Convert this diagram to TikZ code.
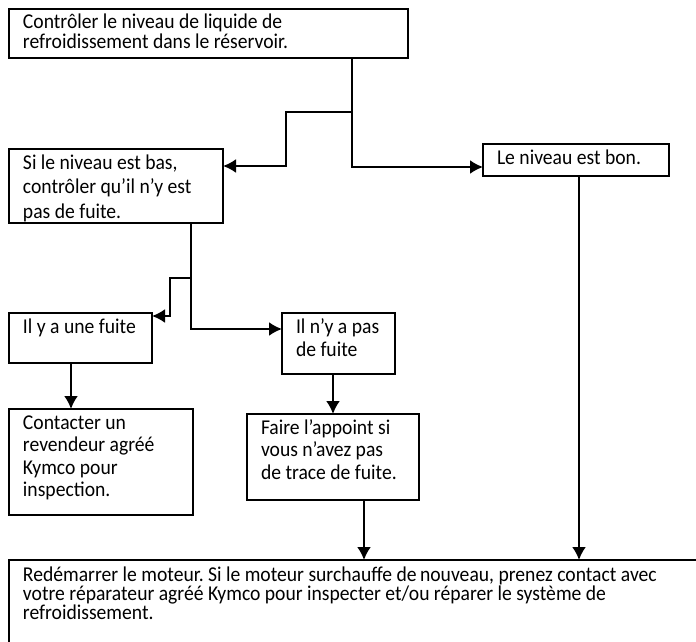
\documentclass[tikz,border=0pt]{standalone}
\usepackage{fontspec}
\setmainfont{Carlito}[FakeStretch=0.93]
\usetikzlibrary{arrows.meta}
\setlength{\lineskiplimit}{-100pt}
\frenchspacing

\begin{document}
\begin{tikzpicture}[x=1pt,y=-1pt,
  boite/.style={draw, line width=2pt, anchor=north west, align=flush left,
    inner xsep=14pt, inner ysep=0pt, outer sep=0pt, text height=20pt},
  interligne/.style={font=\fontsize{21.1pt}{#1pt}\selectfont},
  fleche/.style={line width=2pt, -{Latex[length=13pt,width=14pt]}},
  trait/.style={line width=2pt}]

  \useasboundingbox (0,0) rectangle (696,642);
  \clip (0,0) rectangle (696,642);

  % Boites
  \node[boite, interligne=20, text width=371pt, text depth=29pt] (ctrl) at (9,9)
    {Contrôler le niveau de liquide de\\refroidissement dans le réservoir.};
  \node[boite, interligne=24.5, text width=186pt, text depth=54pt] (bas) at (9,149)
    {Si le niveau est bas,\\contrôler qu’il n’y est\\pas de fuite.};
  \node[boite, interligne=24, text width=158pt, text depth=12pt] (bon) at (483,144)
    {Le niveau est bon.};
  \node[boite, interligne=24, text width=115pt, text depth=30pt] (fuite) at (9,313)
    {Il y a une fuite};
  \node[boite, interligne=23.5, text width=85pt, text depth=41pt] (nofuite) at (282,313)
    {Il n’y a pas\\de fuite};
  \node[boite, interligne=22.5, text width=156pt, text depth=86pt] (revendeur) at (9,409)
    {Contacter un\\revendeur agréé\\Kymco pour\\inspection.};
  \node[boite, interligne=22.5, text width=144pt, text depth=66pt] (appoint) at (247,414)
    {Faire l’appoint si\\vous n’avez pas\\de trace de fuite.};
  \node[boite, interligne=17.5, text height=21.5pt, text width=672pt, text depth=78.5pt] (moteur) at (9,560)
    {Redémarrer le moteur. Si le moteur surchauffe de\,nouveau, prenez contact avec\\
     votre réparateur agréé Kymco pour inspecter et/ou réparer le système de\\
     refroidissement.};

  % Niveau bas / niveau bon
  \coordinate (j1) at (352,112);
  \draw[trait] ([xshift=218pt]ctrl.south west) -| (j1);
  \draw[fleche] (j1) -| (286,140) |- ([yshift=-17pt]bas.north east);
  \draw[fleche] (j1) |- ([yshift=-23pt]bon.north west);

  % Fuite / pas de fuite
  \coordinate (j2) at (191,278);
  \draw[trait] (bas.south -| j2) -- (j2);
  \draw[fleche] (j2) -| (170,300) |- ([yshift=-3pt]fuite.north east);
  \draw[fleche] (j2) |- ([yshift=-16pt]nofuite.north west);

  % Descentes
  \draw[fleche] ([xshift=62pt]fuite.south west) -- ([xshift=62pt]fuite.south west |- revendeur.north);
  \draw[fleche] ([xshift=51pt]nofuite.south west) -- ([xshift=51pt]nofuite.south west |- appoint.north);
  \draw[fleche] ([xshift=117pt]appoint.south west) -- ([xshift=117pt]appoint.south west |- moteur.north);
  \draw[fleche] ([xshift=96pt]bon.south west) -- ([xshift=96pt]bon.south west |- moteur.north);

\end{tikzpicture}
\end{document}
